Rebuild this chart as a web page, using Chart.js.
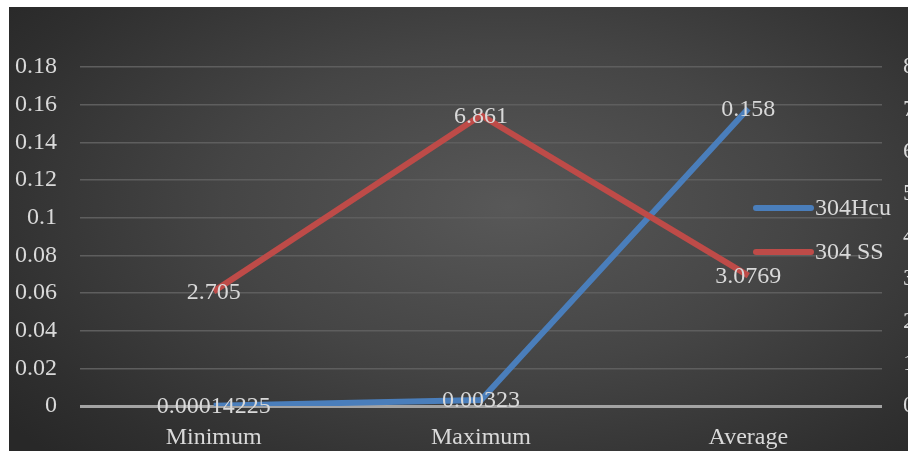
<!DOCTYPE html>
<html>
<head>
<meta charset="utf-8">
<script src="https://cdn.jsdelivr.net/npm/chart.js@4.4.1/dist/chart.umd.min.js"></script>
<style>
  html, body { margin: 0; padding: 0; background: #fff; width: 908px; height: 451px; overflow: hidden; }
  #box {
    position: absolute; left: 9px; top: 7px; width: 910px; height: 444px;
    background: radial-gradient(ellipse 70% 80% at 55% 45%, #585858 0%, #454545 45%, #2f2f2f 85%, #282828 100%);
  }
</style>
</head>
<body>
<div id="box"><canvas id="chart" width="910" height="444"></canvas></div>
<script>
var categories = ['Minimum', 'Maximum', 'Average'];
var hcuValues = [0.00014225, 0.00323, 0.158];
var hcuLabels = ['0.00014225', '0.00323', '0.158'];
var ssValues = [2.705, 6.861, 3.0769];
var ssLabels = ['2.705', '6.861', '3.0769'];
var leftTicks = ['0', '0.02', '0.04', '0.06', '0.08', '0.1', '0.12', '0.14', '0.16', '0.18'];
var rightTicks = ['0', '1', '2', '3', '4', '5', '6', '7', '8'];

var textColor = '#d9d9d9';
var font = { family: "'Liberation Serif', serif", size: 24 };

// value labels centred on each point
var pointLabels = {
    id: 'pointLabels',
    afterDatasetsDraw: function(chart) {
        var ctx = chart.ctx;
        ctx.save();
        ctx.font = '24px "Liberation Serif", serif';
        ctx.fillStyle = textColor;
        ctx.textAlign = 'center';
        ctx.textBaseline = 'middle';
        chart.data.datasets.forEach(function(ds, i) {
            chart.getDatasetMeta(i).data.forEach(function(pt, j) {
                ctx.fillText(ds.valueLabels[j], pt.x, pt.y + 1);
            });
        });
        ctx.restore();
    }
};

// legend drawn over the plot on the right
var sideLegend = {
    id: 'sideLegend',
    afterDraw: function(chart) {
        var ctx = chart.ctx;
        var a = chart.chartArea;
        var x0 = a.right - 128;
        var rows = [201, 245];
        ctx.save();
        ctx.font = '24px "Liberation Serif", serif';
        ctx.textBaseline = 'middle';
        chart.data.datasets.forEach(function(ds, i) {
            var y = rows[i];
            ctx.strokeStyle = ds.borderColor;
            ctx.lineWidth = 6;
            ctx.lineCap = 'round';
            ctx.beginPath();
            ctx.moveTo(x0 + 2, y);
            ctx.lineTo(x0 + 57, y);
            ctx.stroke();
            ctx.fillStyle = textColor;
            ctx.fillText(ds.label, x0 + 61, y + 1);
        });
        ctx.restore();
    }
};

new Chart(document.getElementById('chart'), {
    type: 'line',
    data: {
        labels: categories,
        datasets: [
            {
                label: '304Hcu',
                data: hcuValues,
                valueLabels: hcuLabels,
                borderColor: '#4a7ebb',
                borderWidth: 6,
                pointRadius: 0,
                tension: 0,
                yAxisID: 'y',
                order: 1
            },
            {
                label: '304 SS',
                data: ssValues,
                valueLabels: ssLabels,
                borderColor: '#be4b48',
                borderWidth: 6,
                pointRadius: 0,
                tension: 0,
                yAxisID: 'y2',
                order: 0
            }
        ]
    },
    options: {
        responsive: false,
        animation: false,
        layout: { padding: { top: 60, left: 0, right: 0, bottom: 0 } },
        plugins: { legend: { display: false }, tooltip: { enabled: false } },
        scales: {
            x: {
                offset: true,
                grid: { display: false },
                border: { display: false },
                ticks: { color: textColor, font: font, padding: 9 },
                afterFit: function(s) { s.height = 45; }
            },
            y: {
                position: 'left',
                min: 0, max: 0.18,
                border: { display: false },
                grid: {
                    drawTicks: false,
                    color: function(c) { return c.index === 0 ? '#a3a3a3' : '#5e5e5e'; },
                    lineWidth: function(c) { return c.index === 0 ? 3 : 1.5; }
                },
                ticks: {
                    stepSize: 0.02,
                    color: textColor, font: font, padding: 23,
                    callback: function(v, i) { return leftTicks[i]; }
                },
                afterFit: function(s) { s.width = 71; }
            },
            y2: {
                position: 'right',
                min: 0, max: 8,
                border: { display: false },
                grid: { display: false, drawTicks: false },
                ticks: {
                    stepSize: 1,
                    color: textColor, font: font, padding: 21,
                    callback: function(v, i) { return rightTicks[i]; }
                },
                afterFit: function(s) { s.width = 37; }
            }
        }
    },
    plugins: [pointLabels, sideLegend]
});
</script>
</body>
</html>
